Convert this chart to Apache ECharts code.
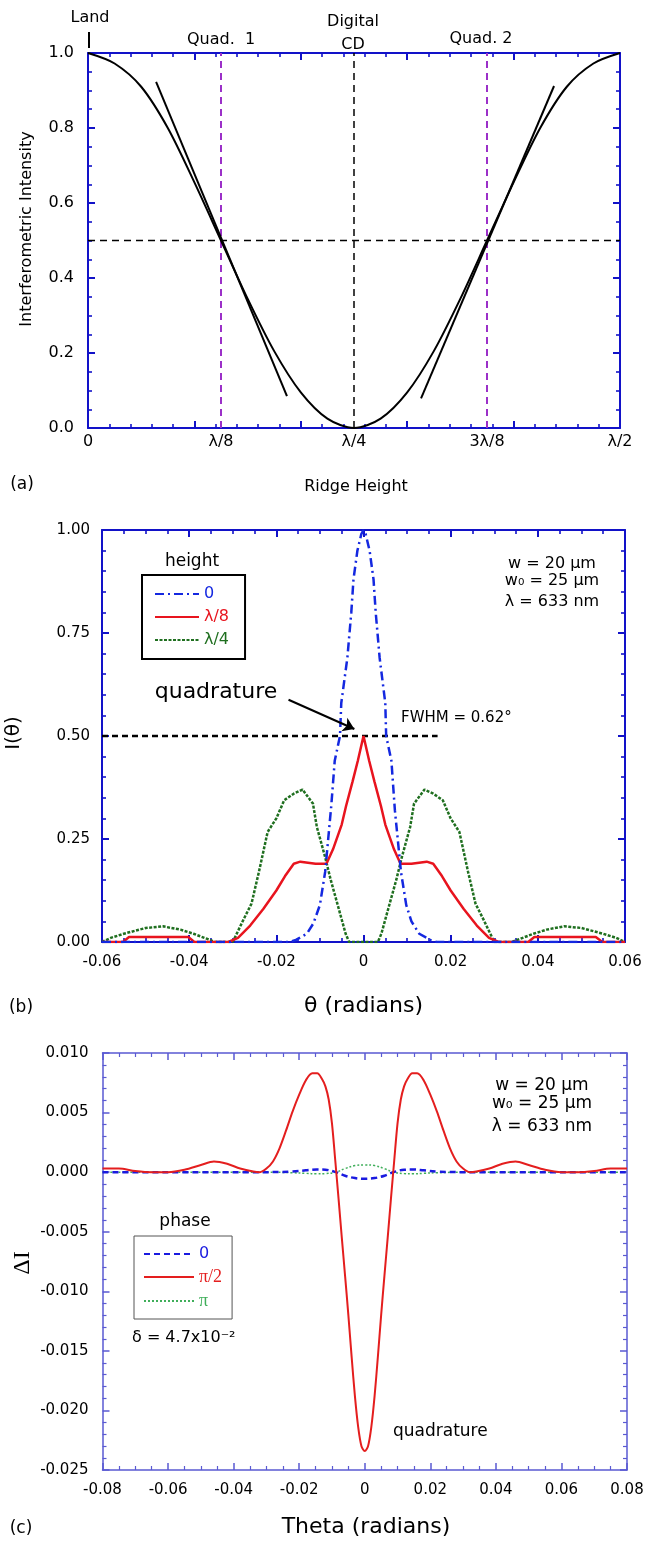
<!DOCTYPE html>
<html lang="en">
<head>
<meta charset="UTF-8">
<title>Interferometric intensity / far-field profiles</title>
<script src="https://cdn.jsdelivr.net/npm/echarts@6/dist/echarts.min.js"></script>
<style>
  html, body { margin: 0; padding: 0; background: #fff; }
  #main { width: 645px; height: 1541px; }
</style>
</head>
<body>
<div id="main"></div>
<script>
// ---------- (a) intensity vs ridge height (x in units of lambda) ----------
var ridgeX = [0, 0.025, 0.05, 0.075, 0.1, 0.125, 0.15, 0.175, 0.2, 0.225, 0.25,
              0.275, 0.3, 0.325, 0.35, 0.375, 0.4, 0.425, 0.45, 0.475, 0.5];
var ridgeI = [1.0, 0.972, 0.91, 0.8, 0.655, 0.5, 0.345, 0.205, 0.095, 0.025, 0.0,
              0.025, 0.095, 0.205, 0.345, 0.5, 0.655, 0.8, 0.91, 0.972, 1.0];
var tangentLeftX = [0.064, 0.187], tangentLeftI = [0.923, 0.085];
var tangentRightX = [0.313, 0.438], tangentRightI = [0.079, 0.912];
var halfLineX = [0, 0.5], halfLineI = [0.5, 0.5];
var quad1X = [0.125, 0.125], quad2X = [0.375, 0.375], cdX = [0.25, 0.25];
var vertLineI = [0, 1];
var ridgeTickLabels = ['0', 'λ/8', 'λ/4', '3λ/8', 'λ/2'];

// ---------- (b) I(theta) for three heights ----------
var blueTheta = [-0.06, -0.017, -0.0155, -0.013, -0.0115, -0.010, -0.0088, -0.0074, -0.0066, -0.0054, -0.0051,
                 -0.0037, -0.0028, -0.0023, -0.0014, -0.0005, 0, 0.0005, 0.0014, 0.0023, 0.0028, 0.0037,
                 0.0050, 0.0052, 0.0064, 0.0072, 0.0086, 0.0098, 0.011, 0.0128, 0.0155, 0.0168, 0.06];
var blueI = [0, 0, 0.005, 0.02, 0.045, 0.09, 0.17, 0.33, 0.44, 0.50, 0.58,
             0.69, 0.80, 0.88, 0.95, 0.99, 1.0, 0.99, 0.95, 0.88, 0.80, 0.69,
             0.58, 0.50, 0.44, 0.32, 0.17, 0.09, 0.05, 0.02, 0.004, 0, 0];
var redTheta = [-0.06, -0.0552, -0.0538, -0.0402, -0.0388, -0.031, -0.0288, -0.026, -0.023, -0.020,
                -0.018, -0.016, -0.0145, -0.011, -0.0085, -0.007, -0.005, -0.004, -0.0025, -0.0013, 0,
                0.0013, 0.0025, 0.004, 0.005, 0.007, 0.0085, 0.011, 0.0145, 0.016, 0.018,
                0.020, 0.023, 0.026, 0.0288, 0.031, 0.0378, 0.0392, 0.0533, 0.0548, 0.06];
var redI = [0, 0, 0.012, 0.012, 0, 0, 0.01, 0.04, 0.08, 0.125,
            0.16, 0.19, 0.195, 0.19, 0.19, 0.225, 0.285, 0.33, 0.39, 0.44, 0.50,
            0.44, 0.39, 0.33, 0.285, 0.225, 0.19, 0.19, 0.195, 0.19, 0.16,
            0.125, 0.08, 0.04, 0.01, 0, 0, 0.012, 0.012, 0, 0];
var greenTheta = [-0.06, -0.058, -0.055, -0.050, -0.046, -0.042, -0.039, -0.036, -0.034, -0.030,
                  -0.0276, -0.0257, -0.024, -0.022, -0.020, -0.0182, -0.016, -0.014, -0.0116, -0.0107,
                  -0.0088, -0.0075, -0.006, -0.0041, -0.0033, 0.0033, 0.0041, 0.006, 0.0075, 0.0088,
                  0.0107, 0.0116, 0.014, 0.016, 0.0182, 0.020, 0.022, 0.024, 0.0257, 0.0276,
                  0.030, 0.034, 0.036, 0.039, 0.042, 0.046, 0.050, 0.055, 0.058, 0.06];
var greenI = [0, 0.01, 0.02, 0.034, 0.038, 0.03, 0.02, 0.008, 0, 0,
              0.053, 0.093, 0.17, 0.267, 0.30, 0.344, 0.36, 0.37, 0.336, 0.279,
              0.206, 0.15, 0.093, 0.02, 0, 0, 0.02, 0.093, 0.15, 0.206,
              0.279, 0.336, 0.37, 0.36, 0.344, 0.30, 0.267, 0.17, 0.093, 0.053,
              0, 0, 0.008, 0.02, 0.03, 0.038, 0.034, 0.02, 0.01, 0];
var fwhmX = [-0.06, 0.017], fwhmI = [0.5, 0.5];
var arrowFrom = [-0.0172, 0.588], arrowTo = [-0.0021, 0.517];

// ---------- (c) delta I vs theta for three phases ----------
var cRedTheta = [-0.08, -0.075, -0.07, -0.065, -0.06, -0.055, -0.05, -0.046, -0.042, -0.038, -0.034, -0.032,
                 -0.03, -0.028, -0.026, -0.024, -0.022, -0.02, -0.018, -0.016, -0.0145, -0.013, -0.012,
                 -0.011, -0.01, -0.009, -0.008, -0.007, -0.006, -0.005, -0.004, -0.003, -0.002, -0.001, 0,
                 0.001, 0.002, 0.003, 0.004, 0.005, 0.006, 0.007, 0.008, 0.009, 0.01, 0.011,
                 0.012, 0.013, 0.0145, 0.016, 0.018, 0.02, 0.022, 0.024, 0.026, 0.028, 0.03,
                 0.032, 0.034, 0.038, 0.042, 0.046, 0.05, 0.055, 0.06, 0.065, 0.07, 0.075, 0.08];
var cRedI = [0.0003, 0.0003, 0.0001, 0.0, 0.0, 0.0002, 0.0006, 0.0009, 0.0007, 0.0003, 0.00005, 0.0,
             0.0003, 0.0009, 0.0020, 0.0035, 0.0051, 0.0065, 0.0077, 0.0083, 0.0083, 0.0078, 0.0072,
             0.0061, 0.0041, 0.0010, -0.0022, -0.0055, -0.0087, -0.0120, -0.0155, -0.0188, -0.0214, -0.0230, -0.0234,
             -0.0230, -0.0214, -0.0188, -0.0155, -0.0120, -0.0087, -0.0055, -0.0022, 0.0010, 0.0041, 0.0061,
             0.0072, 0.0078, 0.0083, 0.0083, 0.0077, 0.0065, 0.0051, 0.0035, 0.0020, 0.0009, 0.0003,
             0.0, 0.00005, 0.0003, 0.0007, 0.0009, 0.0006, 0.0002, 0.0, 0.0, 0.0001, 0.0003, 0.0003];
var cSmallTheta = [-0.08, -0.03, -0.022, -0.018, -0.0147, -0.012, -0.0088, -0.006, -0.003, 0,
                   0.003, 0.006, 0.0088, 0.012, 0.0147, 0.018, 0.022, 0.03, 0.08];
var cBlueI = [0, 0, 0.00005, 0.00015, 0.00022, 0.0002, 0, -0.0003, -0.0005, -0.00056,
              -0.0005, -0.0003, 0, 0.0002, 0.00022, 0.00015, 0.00005, 0, 0];
var cGreenI = [0, 0, -0.00005, -0.0001, -0.00014, -0.00012, 0, 0.0003, 0.00055, 0.00061,
               0.00055, 0.0003, 0, -0.00012, -0.00014, -0.0001, -0.00005, 0, 0];

function pairs(xs, ys) {
    return xs.map(function (x, i) { return [x, ys[i]]; });
}
function clean(v) { return Math.abs(v) < 1e-12 ? 0 : v; }

var FONT = 'DejaVu Sans';
var SERIF = 'Liberation Serif';
var AX = '#1212c8';
var AXC = '#5a5ad2';

function tickAxis(grid, pos, min, max, interval, minorSplit, color, lw, label) {
    return {
        gridIndex: grid, type: 'value', position: pos, min: min, max: max, interval: interval,
        axisLine: { show: true, onZero: false, lineStyle: { color: color, width: lw } },
        axisTick: { show: true, inside: true, length: 7, lineStyle: { color: color, width: lw } },
        minorTick: { show: true, splitNumber: minorSplit, length: 4, lineStyle: { color: color, width: lw * 0.8 } },
        splitLine: { show: false }, minorSplitLine: { show: false },
        axisLabel: label ? label : { show: false }
    };
}

var myChart = echarts.init(document.getElementById('main'));

var lineA = function (name, xs, ys, style) {
    return { type: 'line', name: name, xAxisIndex: 0, yAxisIndex: 0, data: pairs(xs, ys),
             symbol: 'none', lineStyle: style, silent: true };
};

// legend shows only the line sample, no marker
var noMarker = { color: 'rgba(0,0,0,0)', borderWidth: 0, opacity: 0 };

option = {
    animation: false,
    backgroundColor: '#fff',
    grid: [
        { left: 88, top: 53, width: 532, height: 375, outerBoundsMode: 'none' },
        { left: 102, top: 530, width: 523, height: 412, outerBoundsMode: 'none' },
        { left: 102.5, top: 1053, width: 524.5, height: 417, outerBoundsMode: 'none' }
    ],
    xAxis: [
        // (a) labels at lambda fractions
        {
            gridIndex: 0, type: 'value', position: 'bottom', min: 0, max: 0.5, interval: 0.125,
            axisLine: { show: true, onZero: false, lineStyle: { color: AX, width: 2 } },
            axisTick: { show: false }, splitLine: { show: false },
            axisLabel: { margin: 6, fontSize: 16, fontFamily: FONT, color: '#000',
                         formatter: function (v) { return ridgeTickLabels[Math.round(v / 0.125)]; } }
        },
        (function () { var a = tickAxis(0, 'bottom', 0, 0.5, 0.1, 5, AX, 2); a.axisLine.show = false; return a; })(),
        tickAxis(0, 'top', 0, 0.5, 0.1, 5, AX, 2),
        // (b)
        tickAxis(1, 'bottom', -0.06, 0.06, 0.02, 4, AX, 2,
            { margin: 13, fontSize: 15, fontFamily: FONT, color: '#000',
              formatter: function (v) { v = clean(v); return v === 0 ? '0' : v.toFixed(2); } }),
        tickAxis(1, 'top', -0.06, 0.06, 0.02, 4, AX, 2),
        // (c)
        tickAxis(2, 'bottom', -0.08, 0.08, 0.02, 4, AXC, 1.5,
            { margin: 13, fontSize: 15, fontFamily: FONT, color: '#000',
              formatter: function (v) { v = clean(v); return v === 0 ? '0' : v.toFixed(2); } }),
        tickAxis(2, 'top', -0.08, 0.08, 0.02, 4, AXC, 1.5)
    ],
    yAxis: [
        tickAxis(0, 'left', 0, 1, 0.2, 4, AX, 2,
            { margin: 14, fontSize: 16, fontFamily: FONT, color: '#000',
              formatter: function (v) { return clean(v).toFixed(1); } }),
        tickAxis(0, 'right', 0, 1, 0.2, 4, AX, 2),
        tickAxis(1, 'left', 0, 1, 0.25, 5, AX, 2,
            { margin: 12, fontSize: 15, fontFamily: FONT, color: '#000',
              formatter: function (v) { return clean(v).toFixed(2); } }),
        tickAxis(1, 'right', 0, 1, 0.25, 5, AX, 2),
        tickAxis(2, 'left', -0.025, 0.01, 0.005, 5, AXC, 1.5,
            { margin: 14, fontSize: 15, fontFamily: FONT, color: '#000',
              formatter: function (v) { return clean(v).toFixed(3); } }),
        tickAxis(2, 'right', -0.025, 0.01, 0.005, 5, AXC, 1.5)
    ],
    legend: [
        {
            orient: 'vertical', left: 142, top: 575, padding: [11, 16, 11, 12],
            itemWidth: 44, itemHeight: 14, itemGap: 7, selectedMode: false,
            borderColor: '#000', borderWidth: 2, borderRadius: 0,
            itemStyle: noMarker,
            textStyle: { fontSize: 16, fontFamily: FONT, lineHeight: 14 },
            data: [
                { name: '0', textStyle: { color: '#1428e0' } },
                { name: 'λ/8', textStyle: { color: '#e8141e' } },
                { name: 'λ/4', textStyle: { color: '#1f6f1f' } }
            ]
        },
        {
            orient: 'vertical', left: 134, top: 1236, padding: [10, 10, 9, 9],
            itemWidth: 50, itemHeight: 14, itemGap: 6, selectedMode: false,
            borderColor: '#555', borderWidth: 1, borderRadius: 0,
            itemStyle: noMarker,
            textStyle: { fontSize: 16, fontFamily: FONT, lineHeight: 14 },
            formatter: function (n) { return n === 'phase 0' ? '0' : n; },
            data: [
                { name: 'phase 0', textStyle: { color: '#1a1ae0' } },
                { name: 'π/2', textStyle: { color: '#e41e1e', fontFamily: SERIF, fontSize: 18 } },
                { name: 'π', textStyle: { color: '#3fae5a', fontFamily: SERIF, fontSize: 18 } }
            ]
        }
    ],
    series: [
        // (a)
        lineA('half', halfLineX, halfLineI, { color: '#000', width: 1.5, type: [7, 5] }),
        lineA('quad1', quad1X, vertLineI, { color: '#9b30c8', width: 2, type: [7, 5] }),
        lineA('quad2', quad2X, vertLineI, { color: '#9b30c8', width: 2, type: [7, 5] }),
        lineA('cd', cdX, vertLineI, { color: '#000', width: 1.5, type: [7, 5] }),
        (function () { var s = lineA('ridge', ridgeX, ridgeI, { color: '#000', width: 2 }); s.smooth = 0.3; return s; })(),
        lineA('tanL', tangentLeftX, tangentLeftI, { color: '#000', width: 2 }),
        lineA('tanR', tangentRightX, tangentRightI, { color: '#000', width: 2 }),
        // (b)
        {
            type: 'line', name: 'fwhm', xAxisIndex: 3, yAxisIndex: 2, data: pairs(fwhmX, fwhmI),
            symbol: 'none', silent: true, lineStyle: { color: '#000', width: 2.5, type: [6, 4] },
            markLine: {
                silent: true, symbol: ['none', 'arrow'], symbolSize: 11, label: { show: false },
                lineStyle: { color: '#000', width: 2, type: 'solid' },
                data: [[{ coord: arrowFrom }, { coord: arrowTo }]]
            }
        },
        { type: 'line', name: 'λ/4', xAxisIndex: 3, yAxisIndex: 2, data: pairs(greenTheta, greenI),
          symbol: 'none', silent: true, itemStyle: { color: '#1f6f1f' },
          lineStyle: { color: '#1f6f1f', width: 2.5, type: [3, 1.5] } },
        { type: 'line', name: 'λ/8', xAxisIndex: 3, yAxisIndex: 2, data: pairs(redTheta, redI),
          symbol: 'none', silent: true, itemStyle: { color: '#e8141e' },
          lineStyle: { color: '#e8141e', width: 2.5 } },
        { type: 'line', name: '0', xAxisIndex: 3, yAxisIndex: 2, data: pairs(blueTheta, blueI),
          symbol: 'none', silent: true, itemStyle: { color: '#1428e0' },
          lineStyle: { color: '#1428e0', width: 2.5, type: [9, 4, 2, 4] } },
        // (c)
        { type: 'line', name: 'π', xAxisIndex: 5, yAxisIndex: 4, data: pairs(cSmallTheta, cGreenI),
          symbol: 'none', silent: true, smooth: 0.4, itemStyle: { color: '#3fae5a' },
          lineStyle: { color: '#3fae5a', width: 1.5, type: [2, 2] } },
        { type: 'line', name: 'phase 0', xAxisIndex: 5, yAxisIndex: 4, data: pairs(cSmallTheta, cBlueI),
          symbol: 'none', silent: true, smooth: 0.4, itemStyle: { color: '#1a1ae0' },
          lineStyle: { color: '#1a1ae0', width: 2.5, type: [6, 4] } },
        { type: 'line', name: 'π/2', xAxisIndex: 5, yAxisIndex: 4, data: pairs(cRedTheta, cRedI),
          symbol: 'none', silent: true, smooth: 0.3, itemStyle: { color: '#e41e1e' },
          lineStyle: { color: '#e41e1e', width: 2 } }
    ],
    graphic: [
        // (a) header notes
        { type: 'text', x: 90, y: 18, style: { text: 'Land', fontSize: 16, fontFamily: FONT, fill: '#000', align: 'center', verticalAlign: 'middle' } },
        { type: 'line', shape: { x1: 89, y1: 32, x2: 89, y2: 48 }, style: { stroke: '#000', lineWidth: 2 } },
        { type: 'text', x: 221, y: 40, style: { text: 'Quad.  1', fontSize: 16, fontFamily: FONT, fill: '#000', align: 'center', verticalAlign: 'middle' } },
        { type: 'text', x: 353, y: 22, style: { text: 'Digital', fontSize: 16, fontFamily: FONT, fill: '#000', align: 'center', verticalAlign: 'middle' } },
        { type: 'text', x: 353, y: 45, style: { text: 'CD', fontSize: 16, fontFamily: FONT, fill: '#000', align: 'center', verticalAlign: 'middle' } },
        { type: 'text', x: 481, y: 39, style: { text: 'Quad. 2', fontSize: 16, fontFamily: FONT, fill: '#000', align: 'center', verticalAlign: 'middle' } },
        { type: 'text', x: 26.5, y: 229, rotation: Math.PI / 2, style: { text: 'Interferometric Intensity', fontSize: 16, fontFamily: FONT, fill: '#000', align: 'center', verticalAlign: 'middle' } },
        { type: 'text', x: 356, y: 487, style: { text: 'Ridge Height', fontSize: 16, fontFamily: FONT, fill: '#000', align: 'center', verticalAlign: 'middle' } },
        { type: 'text', x: 22, y: 485, style: { text: '(a)', fontSize: 17, fontFamily: FONT, fill: '#000', align: 'center', verticalAlign: 'middle' } },
        // (b)
        { type: 'text', x: 192, y: 562, style: { text: 'height', fontSize: 17, fontFamily: FONT, fill: '#000', align: 'center', verticalAlign: 'middle' } },
        { type: 'text', x: 552, y: 564, style: { text: 'w = 20 µm', fontSize: 16, fontFamily: FONT, fill: '#000', align: 'center', verticalAlign: 'middle' } },
        { type: 'text', x: 552, y: 581, style: { text: 'w₀ = 25 µm', fontSize: 16, fontFamily: FONT, fill: '#000', align: 'center', verticalAlign: 'middle' } },
        { type: 'text', x: 552, y: 602, style: { text: 'λ = 633 nm', fontSize: 16, fontFamily: FONT, fill: '#000', align: 'center', verticalAlign: 'middle' } },
        { type: 'text', x: 216, y: 692, style: { text: 'quadrature', fontSize: 22, fontFamily: FONT, fill: '#000', align: 'center', verticalAlign: 'middle' } },
        { type: 'text', x: 401, y: 718, style: { text: 'FWHM = 0.62°', fontSize: 15, fontFamily: FONT, fill: '#000', align: 'left', verticalAlign: 'middle' } },
        { type: 'text', x: 14, y: 733, rotation: Math.PI / 2, style: { text: 'I(θ)', fontSize: 20, fontFamily: FONT, fill: '#000', align: 'center', verticalAlign: 'middle' } },
        { type: 'text', x: 363.5, y: 1006, style: { text: 'θ (radians)', fontSize: 22, fontFamily: FONT, fill: '#000', align: 'center', verticalAlign: 'middle' } },
        { type: 'text', x: 21, y: 1008, style: { text: '(b)', fontSize: 17, fontFamily: FONT, fill: '#000', align: 'center', verticalAlign: 'middle' } },
        // (c)
        { type: 'text', x: 542, y: 1086, style: { text: 'w = 20 µm', fontSize: 17, fontFamily: FONT, fill: '#000', align: 'center', verticalAlign: 'middle' } },
        { type: 'text', x: 542, y: 1104, style: { text: 'w₀ = 25 µm', fontSize: 17, fontFamily: FONT, fill: '#000', align: 'center', verticalAlign: 'middle' } },
        { type: 'text', x: 542, y: 1127, style: { text: 'λ = 633 nm', fontSize: 17, fontFamily: FONT, fill: '#000', align: 'center', verticalAlign: 'middle' } },
        { type: 'text', x: 185, y: 1222, style: { text: 'phase', fontSize: 17, fontFamily: FONT, fill: '#000', align: 'center', verticalAlign: 'middle' } },
        { type: 'text', x: 132, y: 1338, style: { text: 'δ = 4.7x10⁻²', fontSize: 16, fontFamily: FONT, fill: '#000', align: 'left', verticalAlign: 'middle' } },
        { type: 'text', x: 393, y: 1432, style: { text: 'quadrature', fontSize: 17, fontFamily: FONT, fill: '#000', align: 'left', verticalAlign: 'middle' } },
        { type: 'text', x: 23, y: 1263, rotation: Math.PI / 2, style: { text: 'ΔI', fontSize: 24, fontFamily: SERIF, fill: '#000', align: 'center', verticalAlign: 'middle' } },
        { type: 'text', x: 366, y: 1527, style: { text: 'Theta (radians)', fontSize: 22, fontFamily: FONT, fill: '#000', align: 'center', verticalAlign: 'middle' } },
        { type: 'text', x: 21, y: 1529, style: { text: '(c)', fontSize: 17, fontFamily: FONT, fill: '#000', align: 'center', verticalAlign: 'middle' } }
    ]
};
myChart.setOption(option);
</script>
</body>
</html>
